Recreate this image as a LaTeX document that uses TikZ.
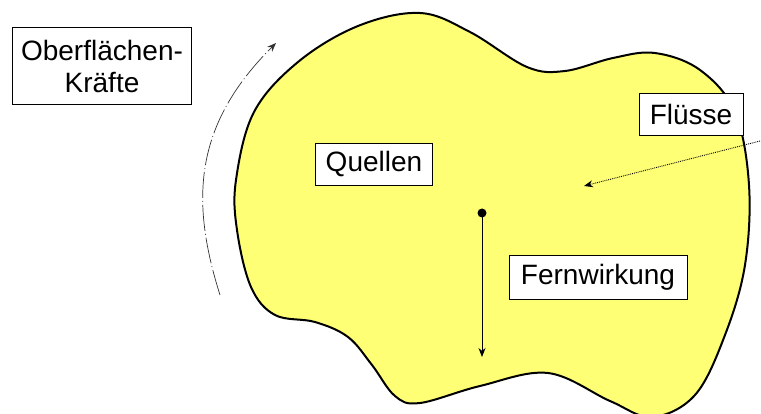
\documentclass[tikz,border=0pt]{standalone}
\usepackage{fontspec}
\setmainfont{Liberation Sans}
\usetikzlibrary{arrows.meta}
\definecolor{koerpergelb}{RGB}{255,255,118}

\begin{document}
\begin{tikzpicture}[x=1pt, y=-1pt, >={Stealth[length=9pt, width=7pt]},
    % Stil für die Beschriftungen (weiße Kästen)
        label/.style={rectangle, draw=black, line width=0.8pt, fill=white, align=center, inner sep=0pt, font=\fontsize{28}{32}\selectfont},
    % Stil für den Körper
        koerper/.style={draw=black, line width=2pt, fill=koerpergelb},
    % Stile für die Pfeile
        kraft/.style={->, line width=0.7pt, draw=black!80, dash pattern=on 26pt off 3pt on 1pt off 3pt},
        fluss/.style={->, line width=0.9pt, densely dotted},
        fern/.style={->, line width=0.9pt}]

        \useasboundingbox (0,0) rectangle (761,414);

        % Körper (Volumen)
        \draw[koerper] plot[smooth cycle, tension=0.6] coordinates {
            (420,13) (470,32) (527,67) (565,71) (613,58) (655,53) (700,70) (735,112)
            (749,185) (745,265) (725,335) (695,395) (652,417) (610,401) (548,373)
            (480,386) (420,403) (395,396) (372,365) (348,337) (315,322) (275,315) (251,287)
            (237,230) (236,180) (254,112) (298,62) (358,26)};

        % Kästen
        \node[label, minimum width=179pt, minimum height=77pt] (ober) at (102,66) {Oberflächen-\\Kräfte};
        \node[label, minimum width=117pt, minimum height=42pt] (quellen) at (374,164) {Quellen};
        \node[label, minimum width=104pt, minimum height=42pt] (fluesse) at (691,114) {Flüsse};
        \node[label, minimum width=178pt, minimum height=44pt] (fernw) at (598,277) {Fernwirkung};

        % Endpunkte der Pfeile
        \coordinate (kraftA) at (220,295);
        \coordinate (kraftB) at (276,43);
        \coordinate (flussA) at (760,141);
        \coordinate (flussB) at (584,186);
        \coordinate (fernA) at (482,213);
        \coordinate (fernB) at (482,357);

        % Pfeile zeichnen
        \draw[kraft] (kraftA) .. controls (190,200) and (194,125) .. (kraftB);
        \draw[fluss] (flussA) -- (flussB);
        \fill (fernA) circle (4.5pt);
        \draw[fern] (fernA) -- (fernB);
    \end{tikzpicture}
\end{document}
